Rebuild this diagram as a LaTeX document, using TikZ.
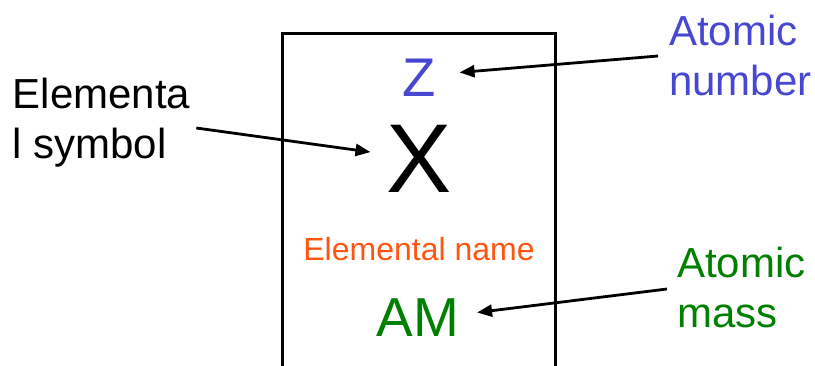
\documentclass[tikz,border=0pt]{standalone}
\usepackage{fontspec}
\setmainfont{Liberation Sans}
\usepackage{xcolor}
\usepackage{tikz}
\usetikzlibrary{arrows.meta, positioning}
\definecolor{znumblue}{HTML}{4747D1}
\definecolor{nameorange}{HTML}{FF5511}
\definecolor{massgreen}{HTML}{008000}
\tikzstyle{arrow} = [line width=2.8pt, -{Triangle[length=15pt,width=12pt]}]
\tikzstyle{sidetext} = [inner sep=0pt, align=left, anchor=west, font=\fontsize{42}{50}\selectfont]
\tikzstyle{cardtext} = [inner sep=0pt, anchor=base]

\begin{document}
\begin{tikzpicture}[x=1pt, y=-1pt]
\useasboundingbox (0,0) rectangle (815,365);

% Element card (runs off the bottom)
\draw[line width=3.6pt] (282.5,385) -- (282.5,33.5) -- (555.5,33.5) -- (555.5,385);

% Card contents
\node (znum) [cardtext, text=znumblue, font=\fontsize{54.5}{60}\selectfont] at (419,96) {Z};
\node (sym) [cardtext, font=\fontsize{97.8}{100}\selectfont] at (419,192) {X};
\node (ename) [cardtext, text=nameorange, font=\fontsize{32}{36}\selectfont] at (419,260) {Elemental name};
\node (amass) [cardtext, text=massgreen, font=\fontsize{54.9}{60}\selectfont] at (418,336) {AM};

% Side labels
\node (symlabel) [sidetext] at (12.5,122.5) {Elementa\\l symbol};
\node (znumlabel) [sidetext, text=znumblue] at (669,55.3) {Atomic\\number};
\node (masslabel) [sidetext, text=massgreen] at (677,287.5) {Atomic\\mass};

% Arrows
\draw [arrow] ([shift={(6,5.5)}]symlabel.east) -- ([shift={(-15.7,-6.3)}]sym.west);
\draw [arrow] ([shift={(-11,0.7)}]znumlabel.west) -- ([shift={(23.7,-4.8)}]znum.east);
\draw [arrow] ([shift={(-10,1.5)}]masslabel.west) -- ([shift={(17.7,-4.6)}]amass.east);

\end{tikzpicture}
\end{document}
